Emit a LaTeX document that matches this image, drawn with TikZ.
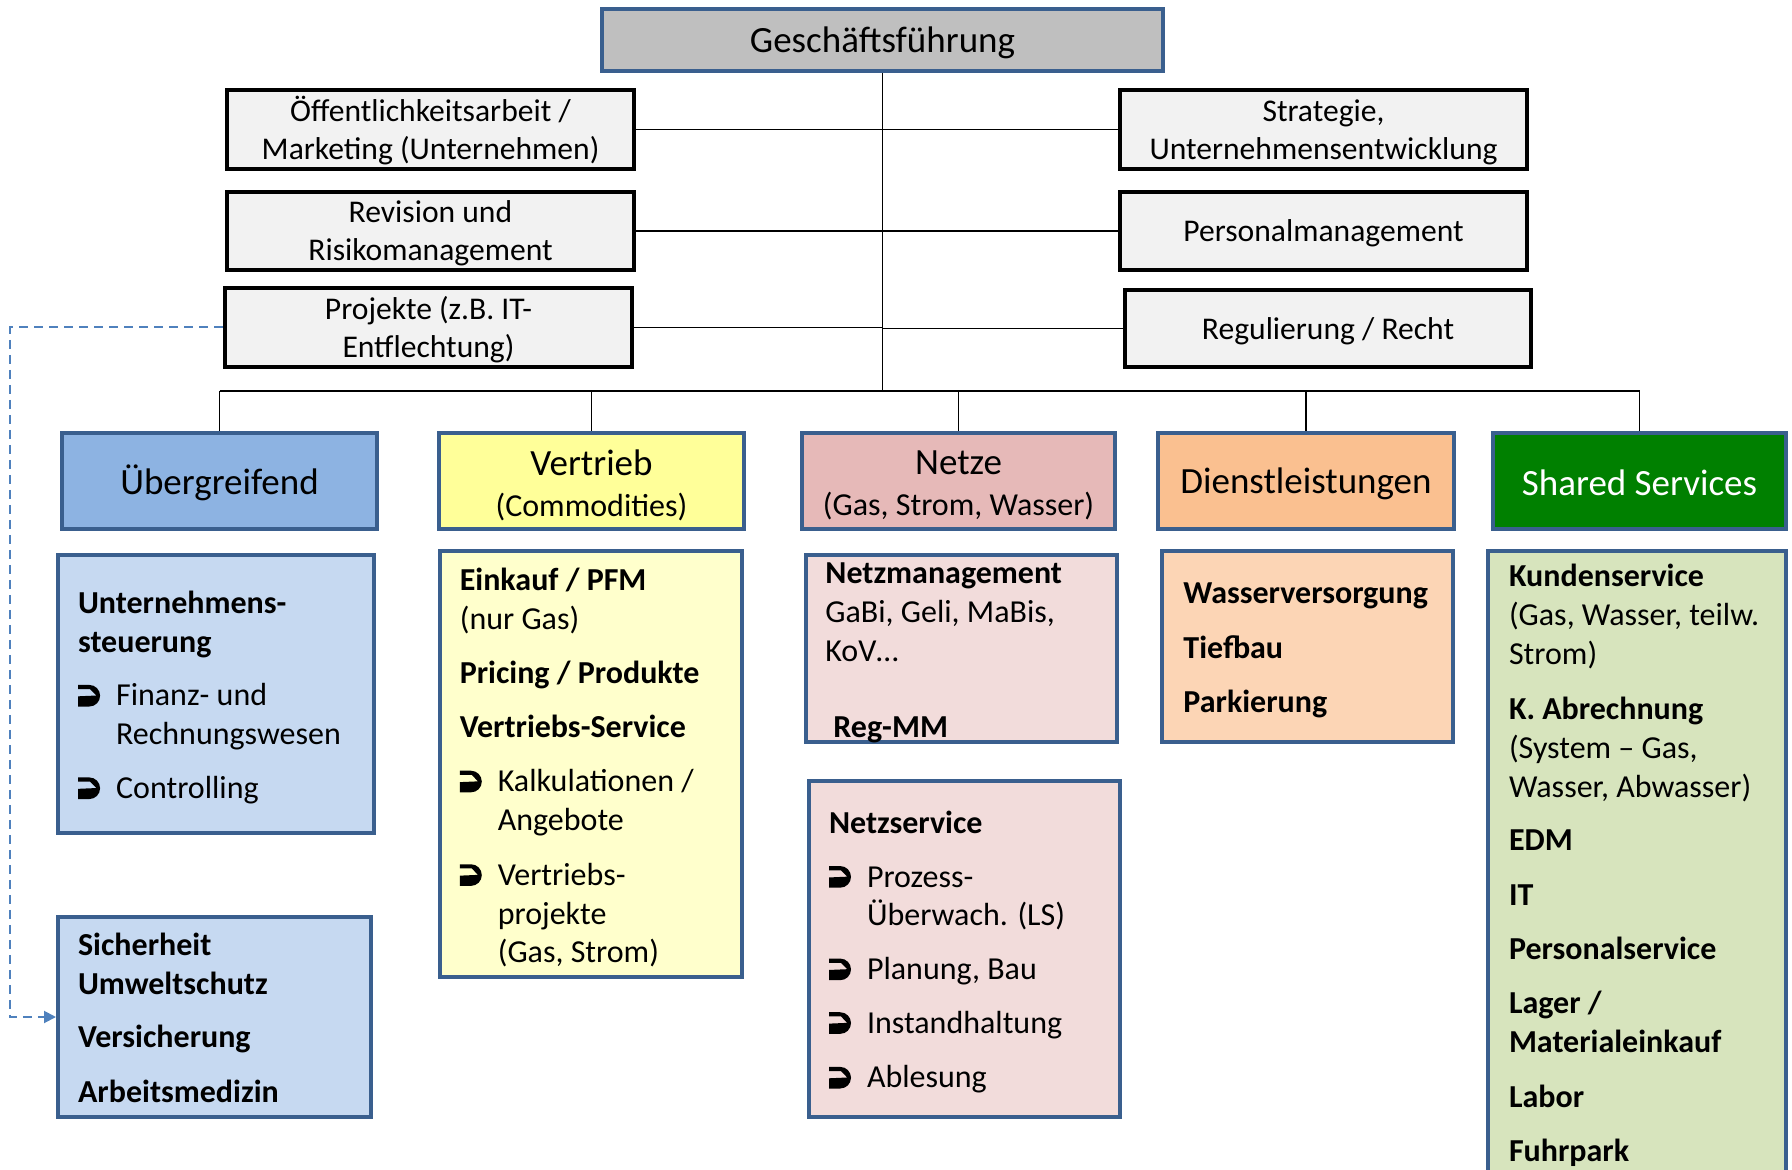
\documentclass[tikz,border=0pt]{standalone}
\usepackage{fontspec}
\setmainfont{Carlito}
\usetikzlibrary{arrows.meta}
\definecolor{bord}{HTML}{3A5F8E}
\definecolor{gfgray}{HTML}{BFBFBF}
\definecolor{topfill}{HTML}{F2F2F2}
\definecolor{uebhead}{HTML}{8DB3E2}
\definecolor{uebbody}{HTML}{C6D9F1}
\definecolor{verthead}{HTML}{FFFF99}
\definecolor{vertbody}{HTML}{FFFFCC}
\definecolor{netzhead}{HTML}{E6B9B8}
\definecolor{netzbody}{HTML}{F2DCDB}
\definecolor{diensthead}{HTML}{FAC090}
\definecolor{dienstbody}{HTML}{FCD5B5}
\definecolor{sshead}{HTML}{008000}
\definecolor{ssbody}{HTML}{D7E4BD}
\definecolor{dashblue}{HTML}{4F81BD}
\newsavebox\arrbox
\newcommand\bul{\makebox[19pt][l]{\usebox\arrbox}}
\newcommand\hind{\hspace*{19pt}}
\begin{document}
\sbox\arrbox{\begin{pgfpicture}%
  \pgfsetbaseline{0pt}%
  \pgfpathmoveto{\pgfpoint{0.4pt}{-0.3pt}}%
  \pgfpathlineto{\pgfpoint{6pt}{-0.3pt}}%
  \pgfpatharc{-90}{90}{5.4pt}%
  \pgfpathlineto{\pgfpoint{0.4pt}{10.5pt}}%
  \pgfpathlineto{\pgfpoint{0.4pt}{8.4pt}}%
  \pgfpathlineto{\pgfpoint{6.4pt}{8.4pt}}%
  \pgfpathlineto{\pgfpoint{9.5pt}{5.2pt}}%
  \pgfpathlineto{\pgfpoint{0.4pt}{4.8pt}}%
  \pgfpathclose
  \pgfusepath{fill}%
\end{pgfpicture}}%
\begin{tikzpicture}[x=0.5pt,y=-0.5pt,
  topbox/.style={draw=black, line width=2.3pt, fill=topfill, inner sep=0pt, minimum width=203.5pt},
  toptxt/.style={align=center, inner sep=0pt, font=\fontsize{15.8}{18.9}\selectfont},
  head/.style={draw=bord, line width=2.2pt, inner sep=0pt, minimum height=48pt},
  headtxt/.style={align=center, inner sep=0pt, font=\fontsize{18.5}{20.5}\selectfont},
  body/.style={draw=bord, line width=2pt, inner sep=0pt},
  txt/.style={anchor=north west, inner sep=0pt, align=left,
    font=\fontsize{16}{19.43}\selectfont},
  conn/.style={line width=0.85pt, draw=black},
  dashline/.style={line width=1pt, draw=dashblue, dash pattern=on 4.5pt off 3pt,
    -{Triangle[length=6pt,width=6pt]}}]
\useasboundingbox (0,0) rectangle (1792,1170);

% Top
\node[head, fill=gfgray, minimum width=280.5pt, minimum height=31pt] (gf) at (882.5,40) {};
\node[headtxt, yshift=-1.5pt] (gft) at (gf) {Geschäftsführung};

\node[topbox, minimum height=39.5pt] (oeff) at (430.5,129.5) {};
\node[toptxt, yshift=-0.7pt] (oefft) at (oeff) {Öffentlichkeitsarbeit /\\Marketing (Unternehmen)};
\node[topbox, minimum height=39pt] (rev) at (430.5,231) {};
\node[toptxt, yshift=-1.1pt] (revt) at (rev) {Revision und\\Risikomanagement};
\node[topbox, minimum height=39.5pt] (proj) at (428.5,327.5) {};
\node[toptxt, yshift=-1.1pt] (projt) at (proj) {Projekte (z.B. IT-\\Entflechtung)};
\node[topbox, minimum height=39.5pt] (strat) at (1323.5,129.5) {};
\node[toptxt, yshift=-1.6pt] (stratt) at (strat) {Strategie,\\Unternehmensentwicklung};
\node[topbox, minimum height=39pt] (pers) at (1323.5,231) {};
\node[toptxt, yshift=-1.1pt] (perst) at (pers) {Personalmanagement};
\node[topbox, minimum width=203pt, minimum height=38.5pt] (reg) at (1328,328.5) {};
\node[toptxt, yshift=-1.5pt] (regt) at (reg) {Regulierung / Recht};

% Heads
\node[head, fill=uebhead, minimum width=157.5pt] (ueb) at (219.5,481) {};
\node[headtxt, yshift=-1.1pt] (uebt) at (ueb) {Übergreifend};
\node[head, fill=verthead, minimum width=152.5pt] (vert) at (591.5,481) {};
\node[headtxt, yshift=-2pt] (vertt) at (vert) {Vertrieb\\{\fontsize{16}{20.5}\selectfont (Commodities)}};
\node[head, fill=netzhead, minimum width=156.5pt] (netze) at (958.5,481) {};
\node[headtxt, yshift=-2.2pt] (netzet) at (netze) {Netze\\{\fontsize{16}{20.5}\selectfont (Gas, Strom, Wasser)}};
\node[head, fill=diensthead, minimum width=148pt] (dienst) at (1306,481) {};
\node[headtxt, yshift=-1.6pt] (dienstt) at (dienst) {Dienstleistungen};
\node[head, fill=sshead, minimum width=146.5pt] (ss) at (1639.5,481) {};
\node[headtxt, text=white, yshift=-0.7pt] (sst) at (ss) {Shared Services};

% Connectors
\coordinate (bus) at (882.5,391);
\draw[conn] (gf.south) -- (bus);
\draw[conn] (oeff.east) -- (oeff.east -| gf.south);
\draw[conn] (rev.east) -- (rev.east -| gf.south);
\draw[conn] (proj.east) -- (proj.east -| gf.south);
\draw[conn] (strat.west) -- (strat.west -| gf.south);
\draw[conn] (pers.west) -- (pers.west -| gf.south);
\draw[conn] (reg.west) -- (reg.west -| gf.south);
\draw[conn] (ueb.north |- bus) -- (ss.north |- bus);
\draw[conn] (ueb.north) -- (ueb.north |- bus);
\draw[conn] (vert.north) -- (vert.north |- bus);
\draw[conn] (netze.north) -- (netze.north |- bus);
\draw[conn] (dienst.north) -- (dienst.north |- bus);
\draw[conn] (ss.north) -- (ss.north |- bus);

% Bodies
\node[body, fill=uebbody, minimum width=158pt, minimum height=139pt] (u1) at (216,694) {};
\node[body, fill=uebbody, minimum width=156.5pt, minimum height=100pt] (u2) at (214.5,1017) {};
\node[body, fill=vertbody, minimum width=151pt, minimum height=213pt] (vb) at (591,764) {};
\node[body, fill=netzbody, minimum width=155.5pt, minimum height=93.5pt] (nm) at (961.5,648.5) {};
\node[body, fill=netzbody, minimum width=155.5pt, minimum height=168pt] (ns) at (964.5,949) {};
\node[body, fill=dienstbody, minimum width=145.5pt, minimum height=95.5pt] (db) at (1307.5,646.5) {};
\begin{scope}
\clip (0,0) rectangle (1792,1170);
\node[body, fill=ssbody, minimum width=149pt, minimum height=324.5pt] (sb) at (1637,875.5) {};
\end{scope}

% Dashed arrow
\coordinate (dl) at (10,0);
\draw[dashline] (proj.west) -- (proj.west -| dl) -- (dl |- u2.west) -- (u2.west);

% Texts
\node[txt] (u1t) at (77.7,587) {\rule{0pt}{13pt}\textbf{Unternehmens-}\\\textbf{steuerung}\\[7.4pt]\bul Finanz- und\\\hind Rechnungswesen\\[7.4pt]\bul Controlling};
\node[txt] (u2t) at (77.7,929) {\rule{0pt}{13pt}\textbf{Sicherheit}\\\textbf{Umweltschutz}\\[7.4pt]\textbf{Versicherung}\\[7.9pt]\textbf{Arbeitsmedizin}};
\node[txt] (vt) at (459.4,564.5) {\rule{0pt}{13pt}\textbf{Einkauf / PFM}\\(nur Gas)\\[7.4pt]\textbf{Pricing / Produkte}\\[7.4pt]\textbf{Vertriebs-Service}\\[7.9pt]\bul Kalkulationen /\\\hind Angebote\\[7.9pt]\bul Vertriebs-\\\hind projekte\\\hind (Gas, Strom)};
\node[txt] (nmt) at (825,557) {\rule{0pt}{13pt}\textbf{Netzmanagement}\\GaBi, Geli, MaBis,\\KoV…\\[18.9pt]\hspace*{4pt}\textbf{Reg-MM}};
\node[txt] (nst) at (828.6,807) {\rule{0pt}{13pt}\textbf{Netzservice}\\[7.4pt]\bul Prozess-\\\hind Überwach. (LS)\\[7.4pt]\bul Planung, Bau\\[7.4pt]\bul Instandhaltung\\[7.9pt]\bul Ablesung};
\node[txt] (dt) at (1183,577.5) {\rule{0pt}{13pt}\textbf{Wasserversorgung}\\[7.9pt]\textbf{Tiefbau}\\[7.4pt]\textbf{Parkierung}};
\node[txt] (st) at (1508.6,560.5) {\rule{0pt}{13pt}\textbf{Kundenservice}\\(Gas, Wasser, teilw.\\Strom)\\[7.9pt]\textbf{K. Abrechnung}\\(System – Gas,\\Wasser, Abwasser)\\[7.4pt]\textbf{EDM}\\[7.9pt]\textbf{IT}\\[7.9pt]\textbf{Personalservice}\\[7.4pt]\textbf{Lager /}\\\textbf{Materialeinkauf}\\[7.9pt]\textbf{Labor}\\[7.9pt]\textbf{Fuhrpark}};
\end{tikzpicture}
\end{document}
